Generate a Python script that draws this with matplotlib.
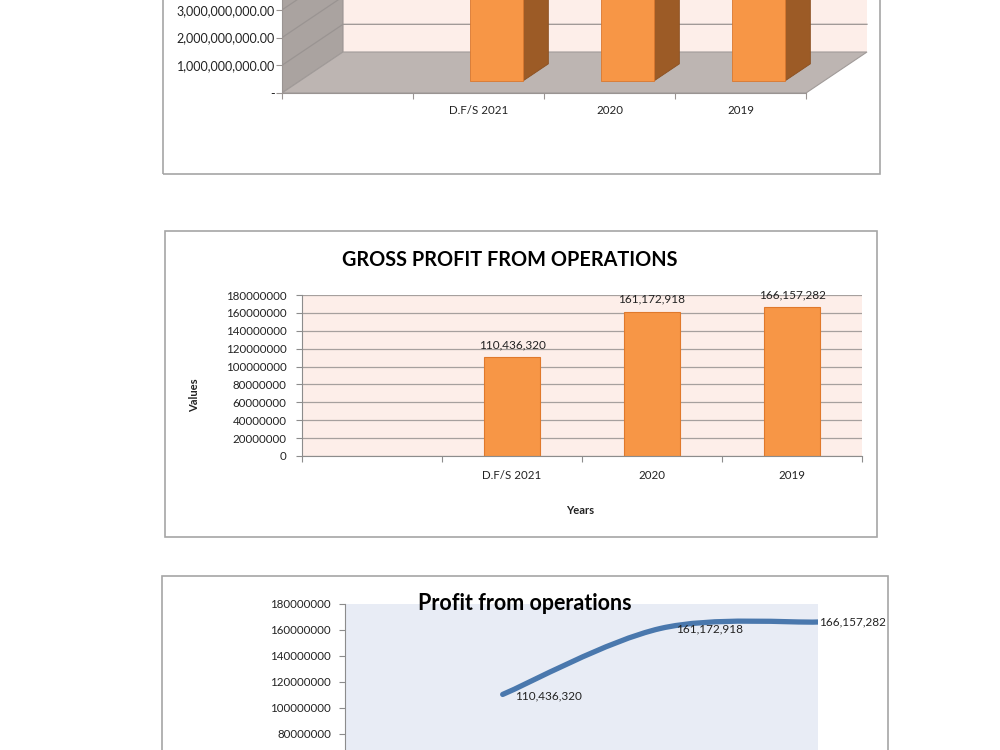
import matplotlib.pyplot as plt
import matplotlib.patches as mpatches
from matplotlib.path import Path
from matplotlib.ticker import FuncFormatter, FixedLocator
import numpy as np

plt.rcParams['font.family'] = ['Lato', 'DejaVu Sans']

# Data
categories = ['', 'D.F/S 2021', '2020', '2019']
top_values = [4.2e9, 4.4e9, 4.6e9]          # tops are cut off in the source picture
gross_profit = [110436320, 161172918, 166157282]
op_profit = [110436320, 161172918, 166157282]
profit_labels = ['110,436,320', '161,172,918', '166,157,282']

W, H = 1000, 750
fig = plt.figure(figsize=(10, 7.5), dpi=100)


def px_box(x0, y0, x1, y1):
    return [x0 / W, 1 - y1 / H, (x1 - x0) / W, (y1 - y0) / H]


def frame(x0, y0, x1, y1):
    fig.add_artist(mpatches.Rectangle((x0 / W, 1 - y1 / H), (x1 - x0) / W, (y1 - y0) / H,
                                      transform=fig.transFigure, fill=False,
                                      edgecolor='#a6a6a6', lw=1.2))


orange = '#f79646'
grey_txt = '#222222'

# ---------------- Chart 1: 3D column chart (top, cropped) ----------------
frame(163, -20, 880, 174)
ax1 = fig.add_axes(px_box(282, -40, 880, 93))
n = len(categories)
px_cat = (806 - 282) / n
px_val = 27.7 / 1e9
DX = 61 / px_cat
DY = 41 / px_val
ymax1 = 133 / px_val
ax1.set_xlim(0, (880 - 282) / px_cat)
ax1.set_ylim(0, ymax1)
ax1.set_facecolor('none')

wall_top = ymax1 + DY
ax1.add_patch(mpatches.Polygon([(DX, DY), (n + DX, DY), (n + DX, wall_top), (DX, wall_top)],
                               facecolor='#fdeee9', edgecolor='none', zorder=1))
ax1.add_patch(mpatches.Polygon([(0, 0), (DX, DY), (DX, wall_top), (0, wall_top)],
                               facecolor='#aaa3a0', edgecolor='#9a9492', lw=0.8, zorder=1))
ax1.add_patch(mpatches.Polygon([(0, 0), (n, 0), (n + DX, DY), (DX, DY)],
                               facecolor='#bdb5b2', edgecolor='#a19b99', lw=0.8, zorder=1))
for v in np.arange(1e9, 5e9, 1e9):
    ax1.plot([0, DX, n + DX], [v, v + DY, v + DY], color='#9a9492', lw=0.9, zorder=2)

f0, f1, bw = 0.3, 0.71, 0.405
for i, v in enumerate(top_values):
    c = i + 1.5
    xl = c - bw / 2 + f0 * DX
    xr = c + bw / 2 + f0 * DX
    ax1.add_patch(mpatches.Polygon([(xr, f0 * DY), (c + bw / 2 + f1 * DX, f1 * DY),
                                    (c + bw / 2 + f1 * DX, v + f1 * DY), (xr, v + f0 * DY)],
                                   facecolor='#9c5b26', edgecolor='#8a4f20', lw=0.6, zorder=3))
    ax1.add_patch(mpatches.Polygon([(xl, f0 * DY), (xr, f0 * DY), (xr, v + f0 * DY), (xl, v + f0 * DY)],
                                   facecolor=orange, edgecolor='#d9782f', lw=0.6, zorder=4))

for s in ['top', 'right']:
    ax1.spines[s].set_visible(False)
ax1.spines['left'].set_color('#9a9492')
ax1.spines['bottom'].set_color('#9a9492')
ax1.spines['bottom'].set_bounds(0, n)
ax1.xaxis.set_major_locator(FixedLocator(np.arange(n + 1)))
ax1.xaxis.set_major_formatter(FuncFormatter(lambda v, p: ''))
ax1.xaxis.set_minor_locator(FixedLocator(np.arange(n) + 0.5))
ax1.set_xticklabels(categories, minor=True)
ax1.tick_params(axis='x', which='major', length=4, color='#9a9492')
ax1.tick_params(axis='x', which='minor', length=0, pad=9, labelsize=8.3, labelcolor=grey_txt)
ax1.set_yticks(np.arange(0, 4e9, 1e9))
ax1.yaxis.set_major_formatter(FuncFormatter(lambda v, p: '-' if v == 0 else f'{v:,.2f}'))
ax1.tick_params(axis='y', length=4, color='#9a9492', labelsize=9, labelcolor=grey_txt, pad=1)

# ---------------- Chart 2: Gross profit from operations ----------------
frame(165, 231, 877, 537)
ax2 = fig.add_axes(px_box(302, 295, 862, 456))
ax2.set_facecolor('#fdeee9')
ax2.set_xlim(0, n)
ax2.set_ylim(0, 180000000)
ax2.set_yticks(np.arange(0, 180000001, 20000000))
ax2.yaxis.set_major_formatter(FuncFormatter(lambda v, p: f'{int(v)}'))
ax2.grid(axis='y', color='#a6a09e', lw=0.9)
ax2.set_axisbelow(True)
xs = np.arange(1, n) + 0.5
bars = ax2.bar(xs, gross_profit, width=0.4, color=orange, edgecolor='#e0792c', lw=0.8)
for b, lab in zip(bars, profit_labels):
    ax2.annotate(lab, (b.get_x() + b.get_width() / 2, b.get_height()), xytext=(0, 5),
                 textcoords='offset points', ha='center', va='bottom', fontsize=8.5, color=grey_txt)
for s in ['top', 'right']:
    ax2.spines[s].set_visible(False)
ax2.spines['left'].set_color('#8c8c8c')
ax2.spines['bottom'].set_color('#8c8c8c')
ax2.xaxis.set_major_locator(FixedLocator(np.arange(n + 1)))
ax2.xaxis.set_major_formatter(FuncFormatter(lambda v, p: ''))
ax2.xaxis.set_minor_locator(FixedLocator(np.arange(n) + 0.5))
ax2.set_xticklabels(categories, minor=True)
ax2.tick_params(axis='x', which='major', length=4, color='#8c8c8c')
ax2.tick_params(axis='x', which='minor', length=0, pad=10, labelsize=8.3, labelcolor=grey_txt)
ax2.tick_params(axis='y', length=4, color='#8c8c8c', labelsize=8.3, labelcolor=grey_txt, pad=7)
fig.text(510 / W, 1 - 260 / H, 'GROSS PROFIT FROM OPERATIONS', ha='center', va='center',
         fontsize=14.3, fontweight='bold', color='black')
fig.text(195 / W, 1 - 395 / H, 'Values', rotation=90, ha='center', va='center',
         fontsize=8, fontweight='bold', color=grey_txt)
fig.text(580 / W, 1 - 511 / H, 'Years', ha='center', va='center',
         fontsize=8, fontweight='bold', color=grey_txt)

# ---------------- Chart 3: Profit from operations (line, cropped) ----------------
frame(162, 576, 888, 790)
ax3 = fig.add_axes(px_box(345, 604, 818, 838))
ax3.set_facecolor('#e8ecf5')
ax3.set_xlim(0, n - 1)
ax3.set_ylim(0, 180000000)
ax3.set_yticks(np.arange(80000000, 180000001, 20000000))
ax3.yaxis.set_major_formatter(FuncFormatter(lambda v, p: f'{int(v)}'))
ax3.set_xticks([])
for s in ['top', 'right', 'bottom']:
    ax3.spines[s].set_visible(False)
ax3.spines['left'].set_color('#8c8c8c')
ax3.tick_params(axis='y', length=4, color='#8c8c8c', labelsize=8.3, labelcolor=grey_txt, pad=6)

# smoothed line (Excel-style Bezier through the points)
pts = np.column_stack([np.arange(1, n), op_profit]).astype(float)
verts = [tuple(pts[0])]
codes = [Path.MOVETO]
for i in range(len(pts) - 1):
    p_prev = pts[i - 1] if i > 0 else pts[i]
    p_next2 = pts[i + 2] if i + 2 < len(pts) else pts[i + 1]
    c1 = pts[i] + (pts[i + 1] - p_prev) / 6
    c2 = pts[i + 1] - (p_next2 - pts[i]) / 6
    verts += [tuple(c1), tuple(c2), tuple(pts[i + 1])]
    codes += [Path.CURVE4] * 3
ax3.add_patch(mpatches.PathPatch(Path(verts, codes), fill=False, edgecolor='#4a78ad',
                                 lw=3.8, capstyle='round', zorder=3))
offsets = [(9, -1), (11, 0), (1, 0)]
for (x, y), lab, off in zip(pts, profit_labels, offsets):
    ax3.annotate(lab, (x, y), xytext=off, textcoords='offset points', ha='left', va='center',
                 fontsize=8.5, color=grey_txt, annotation_clip=False, zorder=4)
fig.text(525 / W, 1 - 603 / H, 'Profit from operations', ha='center', va='center',
         fontsize=15.5, fontweight='bold', color='black', zorder=5)

fig.savefig('out.png', dpi=100)
